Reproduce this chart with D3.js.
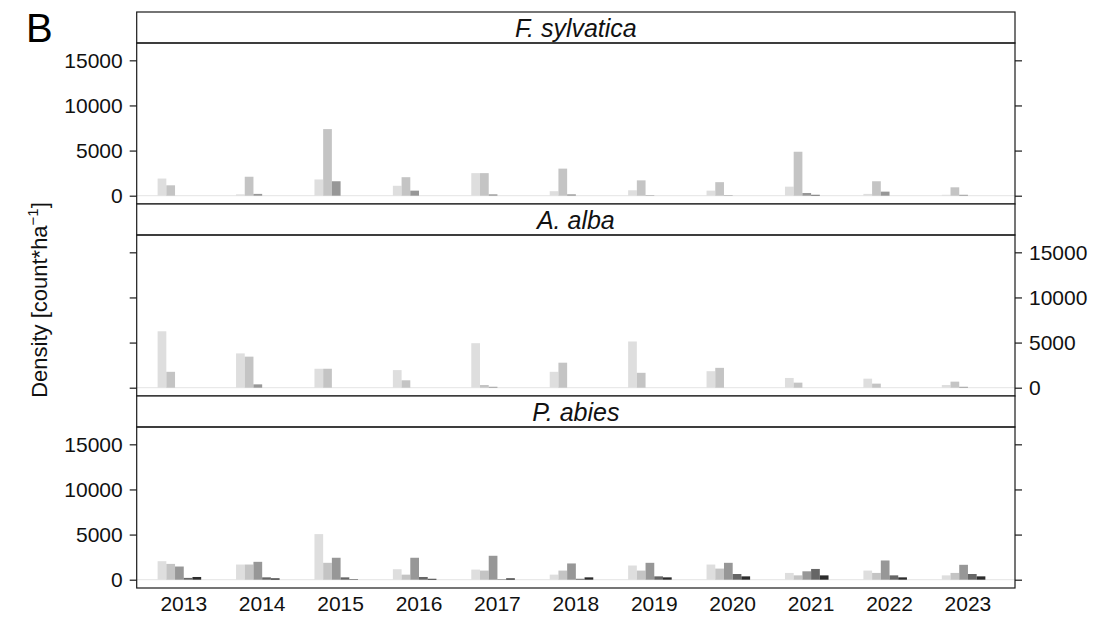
<!DOCTYPE html>
<html>
<head>
<meta charset="utf-8">
<script src="https://cdn.jsdelivr.net/npm/d3@7"></script>
<style>
  html, body { margin: 0; padding: 0; background: #fff; }
  svg { display: block; font-family: "Liberation Sans", Arial, sans-serif; }
</style>
</head>
<body>
<svg id="chart" width="1099" height="618"></svg>
<script>
// Survey years (x categories)
const years = ["2013","2014","2015","2016","2017","2018","2019","2020","2021","2022","2023"];

// Size classes, lightest to darkest fill
const classes = ["class1","class2","class3","class4","class5"];
const classFills = ["#dedede","#c4c4c4","#979797","#666666","#2c2c2c"];

// Density [count/ha] per species, one array per size class (years in order)
const sylvatica1 = [1900, 150, 1800, 1100, 2500, 500, 600, 560, 1000, 200, 100];
const sylvatica2 = [1150, 2100, 7380, 2050, 2500, 3000, 1700, 1500, 4870, 1600, 930];
const sylvatica3 = [0, 200, 1600, 560, 150, 150, 50, 50, 300, 450, 100];
const sylvatica4 = [0, 0, 0, 0, 0, 0, 0, 0, 100, 0, 0];
const sylvatica5 = [0, 0, 0, 0, 0, 0, 0, 0, 0, 0, 0];

const alba1 = [6250, 3800, 2100, 1950, 4930, 1760, 5120, 1830, 1080, 1000, 300];
const alba2 = [1760, 3440, 2100, 820, 300, 2770, 1650, 2200, 560, 450, 670];
const alba3 = [0, 370, 0, 0, 100, 0, 0, 0, 0, 0, 100];
const alba4 = [0, 0, 0, 0, 0, 0, 0, 0, 0, 0, 0];
const alba5 = [0, 0, 0, 0, 0, 0, 0, 0, 0, 0, 0];

const abies1 = [2050, 1680, 5050, 1160, 1120, 560, 1570, 1680, 750, 1010, 480];
const abies2 = [1750, 1680, 1870, 560, 1010, 1010, 1010, 1230, 480, 750, 750];
const abies3 = [1460, 1980, 2430, 2430, 2650, 1800, 1870, 1870, 930, 2130, 1650];
const abies4 = [200, 260, 260, 300, 50, 100, 370, 630, 1190, 480, 630];
const abies5 = [300, 150, 50, 100, 150, 260, 260, 370, 480, 260, 370];

// Y ticks shared by all panels
const yTicks = [0, 5000, 10000, 15000];

// Panels from top to bottom; tick labels alternate sides
const panels = [
  { name: "F. sylvatica", series: [sylvatica1, sylvatica2, sylvatica3, sylvatica4, sylvatica5], labelSide: "left" },
  { name: "A. alba",      series: [alba1, alba2, alba3, alba4, alba5],                          labelSide: "right" },
  { name: "P. abies",     series: [abies1, abies2, abies3, abies4, abies5],                     labelSide: "left" }
];

const svg = d3.select("#chart");
const frameLeft = 136.7, frameRight = 1015;
const frameTop = 12, stripH = 31, panelH = 161;
const tickFont = 21, stripFont = 25, titleFont = 22;
const fontStack = "'Liberation Sans', Arial, sans-serif";

// Year positions; each year band holds six slots, five of which carry bars
const x = d3.scaleBand().domain(years).range([frameLeft, frameRight])
  .paddingInner(1 / 3).paddingOuter(0.2667);
const sub = d3.scaleBand().domain(classes)
  .range([0, x.bandwidth() * classes.length / 6]);
const fill = d3.scaleOrdinal().domain(classes).range(classFills);

panels.forEach((p, i) => {
  const stripTop = frameTop + i * (stripH + panelH);
  const pTop = stripTop + stripH;
  const pBot = pTop + panelH;
  const y = d3.scaleLinear().domain([-920, 16920]).range([pBot, pTop]);

  const g = svg.append("g");

  // zero reference line
  g.append("line")
    .attr("x1", frameLeft).attr("x2", frameRight)
    .attr("y1", y(0)).attr("y2", y(0))
    .attr("stroke", "#e4e4e4").attr("stroke-width", 1);

  // bars
  const rows = years.map((yr, j) => ({ year: yr, vals: classes.map((c, k) => ({ cls: c, v: p.series[k][j] })) }));
  g.selectAll("g.year").data(rows).join("g")
    .attr("class", "year")
    .attr("transform", d => `translate(${x(d.year)},0)`)
    .selectAll("rect").data(d => d.vals.filter(e => e.v > 0)).join("rect")
      .attr("x", e => sub(e.cls))
      .attr("width", sub.bandwidth())
      .attr("y", e => y(e.v))
      .attr("height", e => y(0) - y(e.v))
      .attr("fill", e => fill(e.cls));

  // strip
  g.append("rect")
    .attr("x", frameLeft).attr("y", stripTop)
    .attr("width", frameRight - frameLeft).attr("height", stripH)
    .attr("fill", "#fff").attr("stroke", "#1a1a1a").attr("stroke-width", 1.2);
  g.append("text")
    .attr("x", (frameLeft + frameRight) / 2).attr("y", stripTop + stripH / 2 + 9)
    .attr("text-anchor", "middle").attr("font-style", "italic")
    .attr("font-size", stripFont).attr("fill", "#111")
    .text(p.name);

  // panel frame
  g.append("rect")
    .attr("x", frameLeft).attr("y", pTop)
    .attr("width", frameRight - frameLeft).attr("height", panelH)
    .attr("fill", "none").attr("stroke", "#1a1a1a").attr("stroke-width", 1.2);

  // y axes on both sides
  const fmt = d3.format("d");
  const axL = d3.axisLeft(y).tickValues(yTicks).tickFormat(fmt).tickSize(7).tickPadding(7).tickSizeOuter(0);
  const axR = d3.axisRight(y).tickValues(yTicks).tickFormat(fmt).tickSize(7).tickPadding(7).tickSizeOuter(0);
  const gl = g.append("g").attr("transform", `translate(${frameLeft},0)`).call(axL);
  const gr = g.append("g").attr("transform", `translate(${frameRight},0)`).call(axR);
  [gl, gr].forEach(a => {
    a.select(".domain").remove();
    a.selectAll(".tick line").attr("stroke", "#1a1a1a").attr("stroke-width", 1.2);
    a.selectAll(".tick text").attr("font-size", tickFont).attr("fill", "#111")
      .attr("font-family", fontStack);
  });
  if (p.labelSide === "left") gr.selectAll(".tick text").remove();
  else gl.selectAll(".tick text").remove();

  // x axis labels under the bottom panel
  if (i === panels.length - 1) {
    const ax = d3.axisBottom(x).tickSize(0).tickPadding(8);
    const gx = g.append("g").attr("transform", `translate(0,${pBot})`).call(ax);
    gx.select(".domain").remove();
    gx.selectAll(".tick text").attr("font-size", tickFont).attr("fill", "#111")
      .attr("font-family", fontStack);
  }
});

// y axis title
const plotMid = frameTop + (3 * (stripH + panelH)) / 2;
const yt = svg.append("text")
  .attr("transform", `translate(47,${plotMid}) rotate(-90)`)
  .attr("text-anchor", "middle").attr("font-size", titleFont).attr("fill", "#111");
yt.append("tspan").text("Density [count*ha");
yt.append("tspan").attr("dy", -9).attr("font-size", 15).text("\u22121");
yt.append("tspan").attr("dy", 9).text("]");

// panel tag
svg.append("text").attr("x", 26).attr("y", 42)
  .attr("font-size", 40).attr("fill", "#000").text("B");
</script>
</body>
</html>
